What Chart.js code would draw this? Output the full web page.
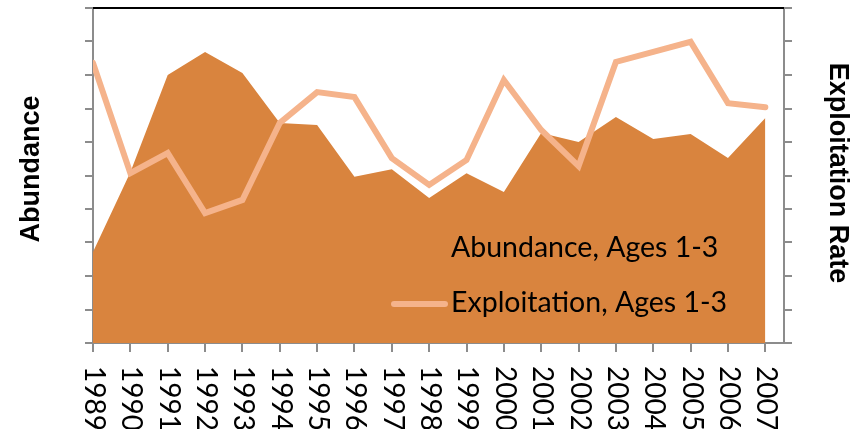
<!DOCTYPE html>
<html>
<head>
<meta charset="utf-8">
<script src="https://cdn.jsdelivr.net/npm/chart.js@4.4.1/dist/chart.umd.min.js"></script>
<style>
  html, body { margin: 0; padding: 0; background: #fff; }
  #wrap { width: 865px; height: 429px; position: relative; }
</style>
</head>
<body>
<div id="wrap"><canvas id="grafico" width="865" height="429"></canvas></div>
<script>
// Anos (eixo x)
const anos = [1989, 1990, 1991, 1992, 1993, 1994, 1995, 1996, 1997, 1998,
              1999, 2000, 2001, 2002, 2003, 2004, 2005, 2006, 2007];

// Abundancia, idades 1-3 (eixo esquerdo, sem rotulos)
const abundancia = [2.72, 5.1, 8.0, 8.69, 8.06, 6.57, 6.51, 4.96, 5.19, 4.33,
                    5.07, 4.51, 6.27, 6.0, 6.75, 6.09, 6.24, 5.52, 6.72];

// Taxa de exploracao, idades 1-3 (eixo direito, sem rotulos)
const exploracao = [8.36, 5.07, 5.67, 3.88, 4.27, 6.57, 7.49, 7.34, 5.52, 4.72,
                    5.46, 7.85, 6.36, 5.28, 8.39, 8.69, 8.99, 7.16, 7.04];

const legendaAbund = 'Abundance, Ages 1-3';
const legendaExpl = 'Exploitation, Ages 1-3';
const tituloEsq = 'Abundance';
const tituloDir = 'Exploitation Rate';

const corArea = '#d9843e';
const corLinha = '#f5b38b';
const corEixo = '#8c8c8c';

// Desenha rotulos do eixo x, titulos, legenda e borda superior
const extras = {
  id: 'extras',
  afterDatasetsDraw(chart) {
    const ctx = chart.ctx;
    const area = chart.chartArea;
    const xs = chart.scales.x;
    ctx.save();

    // borda superior preta
    ctx.strokeStyle = '#000';
    ctx.lineWidth = 2;
    ctx.beginPath();
    ctx.moveTo(area.left, area.top);
    ctx.lineTo(area.right, area.top);
    ctx.stroke();

    // rotulos dos anos, girados no sentido horario
    ctx.fillStyle = '#000';
    ctx.font = '28px Lato';
    ctx.textAlign = 'left';
    ctx.textBaseline = 'middle';
    anos.forEach(a => {
      const px = xs.getPixelForValue(a);
      ctx.save();
      ctx.translate(px + 1, area.bottom + 23);
      ctx.rotate(Math.PI / 2);
      ctx.fillText(String(a), 0, 0);
      ctx.restore();
    });

    // titulos dos eixos
    ctx.font = 'bold 27px "Liberation Sans"';
    ctx.textAlign = 'center';
    ctx.save();
    ctx.translate(32, 169);
    ctx.rotate(-Math.PI / 2);
    ctx.fillText(tituloEsq, 0, 0);
    ctx.restore();
    ctx.save();
    ctx.translate(837, 173);
    ctx.rotate(Math.PI / 2);
    ctx.fillText(tituloDir, 0, 0);
    ctx.restore();

    // legenda
    ctx.font = '28.5px Lato';
    ctx.textAlign = 'left';
    ctx.textBaseline = 'alphabetic';
    ctx.fillText(legendaAbund, 451, 257);
    ctx.fillText(legendaExpl, 451, 312);
    ctx.strokeStyle = corLinha;
    ctx.lineWidth = 6;
    ctx.lineCap = 'round';
    ctx.beginPath();
    ctx.moveTo(394, 304);
    ctx.lineTo(445, 304);
    ctx.stroke();

    ctx.restore();
  }
};

const eixoY = (posicao, largura) => ({
  type: 'linear',
  position: posicao,
  min: 0,
  max: 10,
  ticks: { display: false, stepSize: 1 },
  grid: { drawOnChartArea: false, drawTicks: true, tickLength: 8, color: corEixo, lineWidth: 2 },
  border: { display: true, color: corEixo, width: 2 },
  afterFit(scale) { scale.width = largura; }
});

new Chart(document.getElementById('grafico').getContext('2d'), {
  type: 'line',
  data: {
    datasets: [
      {
        label: legendaExpl,
        data: anos.map((a, i) => ({ x: a, y: exploracao[i] })),
        yAxisID: 'y2',
        borderColor: corLinha,
        borderWidth: 6,
        borderCapStyle: 'round',
        pointRadius: 0,
        fill: false,
        tension: 0,
        order: 0
      },
      {
        label: legendaAbund,
        data: anos.map((a, i) => ({ x: a, y: abundancia[i] })),
        yAxisID: 'y',
        backgroundColor: corArea,
        borderWidth: 0,
        borderColor: corArea,
        pointRadius: 0,
        fill: 'origin',
        tension: 0,
        order: 1
      }
    ]
  },
  options: {
    responsive: false,
    animation: false,
    layout: { padding: { top: 8, left: 0, right: 0, bottom: 0 } },
    plugins: { legend: { display: false }, tooltip: { enabled: false } },
    scales: {
      x: {
        type: 'linear',
        min: anos[0],
        max: anos[anos.length - 1] + 0.5,
        ticks: { display: false, stepSize: 1, includeBounds: false },
        grid: { drawOnChartArea: false, drawTicks: true, tickLength: 9, color: corEixo, lineWidth: 2 },
        border: { display: true, color: corEixo, width: 2 },
        afterFit(scale) { scale.height = 86; }
      },
      y: eixoY('left', 93),
      y2: eixoY('right', 81)
    }
  },
  plugins: [extras]
});
</script>
</body>
</html>
